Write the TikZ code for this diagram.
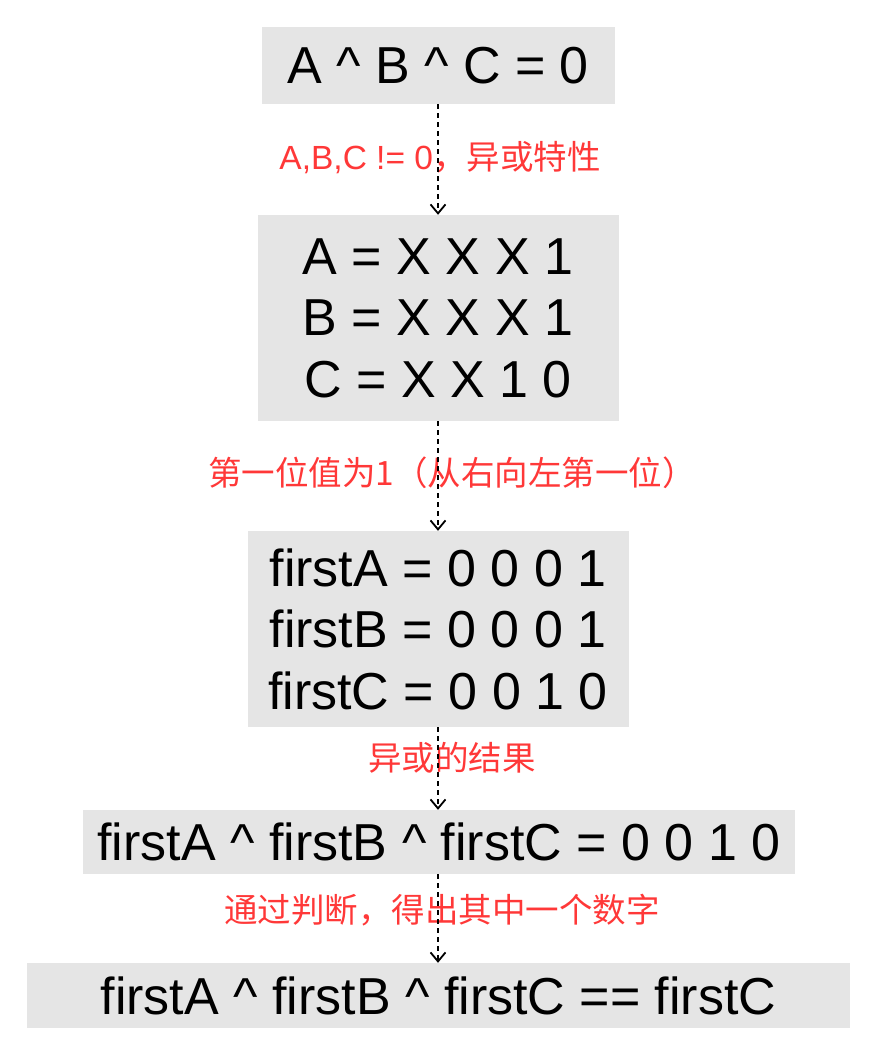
\documentclass[tikz,border=0pt]{standalone}
\usepackage{fontspec}
\setmainfont{Liberation Sans}
\newfontfamily\cjk{Noto Sans CJK SC}
\usetikzlibrary{arrows.meta}
\definecolor{boxgray}{HTML}{E5E5E5}
\definecolor{notered}{HTML}{FF3838}
\tikzset{
  stepbox/.style={fill=boxgray, inner sep=0pt, align=center, font=\fontsize{52}{61.5}\selectfont},
  note/.style={text=notered, inner sep=0pt, font=\fontsize{33.5}{38}\selectfont},
  flow/.style={draw, line width=1.8pt, dash pattern=on 5pt off 4pt, -{Straight Barb[length=9pt,width=15pt]}},
}
\begin{document}
\begin{tikzpicture}[x=1pt,y=-1pt]
\useasboundingbox (0,0) rectangle (880,1060);
% steps
\node[stepbox, minimum width=353pt, minimum height=77pt] (xor) at (438,65.5) {A \^{} B \^{} C = 0};
\node[stepbox, minimum width=361pt, minimum height=206pt] (bits) at (438,318) {A = X X X 1\\B = X X X 1\\C = X X 1 0};
\node[stepbox, minimum width=381pt, minimum height=196pt] (first) at (438,629) {firstA = 0 0 0 1\\firstB = 0 0 0 1\\firstC = 0 0 1 0};
\node[stepbox, minimum width=712pt, minimum height=64pt] (res) at (439,842) {firstA \^{} firstB \^{} firstC = 0 0 1 0};
\node[stepbox, minimum width=823pt, minimum height=65pt] (eq) at (438.5,995.5) {firstA \^{} firstB \^{} firstC == firstC};
% notes
\node[note] (n1) at (440,158) {A,B,C != 0{\cjk ，异或特性}};
\node[note] (n2) at (452,473) {\cjk 第一位值为1（从右向左第一位）};
\node[note] (n3) at (452,758) {\cjk 异或的结果};
\node[note] (n4) at (442,910) {\cjk 通过判断，得出其中一个数字};
% arrows
\draw[flow] (xor.south -| 438,0) -- (bits.north -| 438,0);
\draw[flow] (bits.south -| 438,0) -- (first.north -| 438,0);
\draw[flow] (first.south -| 438,0) -- (res.north -| 438,0);
\draw[flow] (res.south -| 438,0) -- (eq.north -| 438,0);
\end{tikzpicture}
\end{document}
